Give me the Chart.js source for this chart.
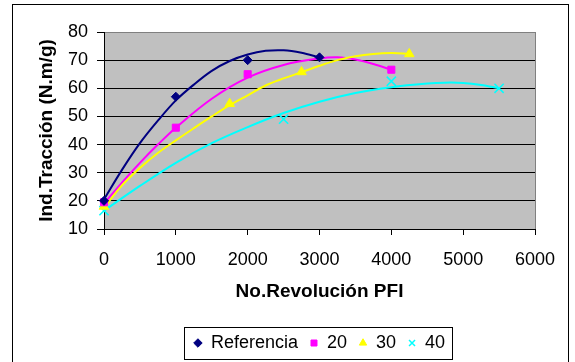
<!DOCTYPE html>
<html>
<head>
<meta charset="utf-8">
<script src="https://cdn.jsdelivr.net/npm/chart.js@4"></script>
<style>
  html, body { margin: 0; padding: 0; background: #fff; }
  #wrap { width: 575px; height: 362px; }
</style>
</head>
<body>
<div id="wrap"><canvas id="chart" width="575" height="362"></canvas></div>
<script>
// Series names shown in the legend
const seriesNames = ['Referencia', '20', '30', '40'];

// Measured points (x = PFI revolutions, y = tensile index N.m/g)
const refX = [0, 1000, 2000, 3000];
const refY = [20, 57, 70, 71];
const s20X = [0, 1000, 2000, 4000];
const s20Y = [19.5, 46, 65, 66.6];
const s30X = [0, 1750, 2750, 4250];
const s30Y = [18, 54.5, 65.8, 72.2];
const s40X = [0, 2500, 4000, 5500];
const s40Y = [16.5, 49, 62.5, 60];

// Trend curves, sampled along each fitted line
const trendRefX = [0, 250, 500, 750, 1000, 1250, 1500, 1750, 2000, 2250, 2500, 2750, 3000];
const trendRefY = [20.5, 31, 40.5, 48.5, 55.7, 61.3, 66.2, 69.7, 72, 73.3, 73.5, 72.6, 71];
const trend20X = [0, 250, 500, 750, 1000, 1500, 2000, 2500, 3000, 3250, 3500, 3750, 4000];
const trend20Y = [19, 26.5, 33.5, 40, 46, 56.3, 63.8, 68.3, 70.6, 71, 70.2, 68.6, 66.6];
const trend30X = [0, 250, 500, 750, 1000, 1250, 1500, 1750, 2000, 2250, 2500, 2750, 3000, 3250, 3500, 3750, 4000, 4250];
const trend30Y = [17.5, 25.5, 31.7, 37, 41.5, 45.8, 50, 54, 57.5, 61, 63.5, 65.7, 68, 70, 71.4, 72.2, 72.5, 72.3];
const trend40X = [0, 500, 1000, 1500, 2000, 2500, 3000, 3500, 4000, 4500, 4750, 5000, 5250, 5500];
const trend40Y = [16.5, 25.3, 33.5, 40.5, 46.2, 51.2, 55.2, 58.3, 60.4, 61.7, 62, 61.9, 61.2, 60];

// Axis ticks
const xTicks = [0, 1000, 2000, 3000, 4000, 5000, 6000];
const yTicks = [10, 20, 30, 40, 50, 60, 70, 80];

const colors = ['#000080', '#ff00ff', '#ffff00', '#00ffff'];

const toPoints = (xs, ys) => xs.map((x, i) => ({ x, y: ys[i] }));

Chart.defaults.font.family = "'Liberation Sans', Arial, sans-serif";
Chart.defaults.font.size = 18;
Chart.defaults.color = '#000';

function markerSet(label, xs, ys, color, style, radius, bw) {
  return {
    label, data: toPoints(xs, ys), showLine: false, clip: false,
    pointStyle: style, pointRadius: radius, pointHoverRadius: radius,
    backgroundColor: color, borderColor: color, borderWidth: bw
  };
}
function trendSet(xs, ys, color) {
  return {
    label: '', data: toPoints(xs, ys), showLine: true, pointRadius: 0, pointHoverRadius: 0,
    borderColor: color, backgroundColor: color, borderWidth: 2, fill: false,
    tension: 0.35, clip: false
  };
}

// Page frame, plot background and legend box
const framePlugin = {
  id: 'frame',
  beforeDraw(chart) {
    const { ctx, chartArea: a } = chart;
    ctx.save();
    ctx.fillStyle = '#fff';
    ctx.fillRect(0, 0, chart.width, chart.height);
    ctx.strokeStyle = '#000';
    ctx.lineWidth = 1;
    ctx.strokeRect(12.5, 4.5, 556, 400);
    ctx.fillStyle = '#c0c0c0';
    ctx.fillRect(a.left, a.top, a.right - a.left, a.bottom - a.top);
    ctx.strokeStyle = '#808080';
    ctx.beginPath();
    ctx.moveTo(a.right + 0.5, a.top);
    ctx.lineTo(a.right + 0.5, a.bottom);
    ctx.stroke();
    ctx.restore();
  },
  afterDraw(chart) {
    const boxes = chart.legend && chart.legend.legendHitBoxes;
    if (!boxes || !boxes.length) return;
    const first = boxes[0], last = boxes[boxes.length - 1];
    const cy = first.top + first.height / 2;
    const l = Math.round(first.left - 10) + 0.5;
    const r = Math.round(last.left + last.width + 7) + 0.5;
    const t = Math.round(cy - 16) + 0.5;
    const b = Math.round(cy + 16) + 0.5;
    const ctx = chart.ctx;
    ctx.save();
    ctx.strokeStyle = '#000';
    ctx.lineWidth = 1;
    ctx.strokeRect(l, t, r - l, b - t);
    ctx.restore();
  }
};

new Chart(document.getElementById('chart'), {
  type: 'scatter',
  data: {
    datasets: [
      markerSet(seriesNames[0], refX, refY, colors[0], 'rectRot', 4.5, 1),
      markerSet(seriesNames[1], s20X, s20Y, colors[1], 'rect', 5, 1),
      markerSet(seriesNames[2], s30X, s30Y, colors[2], 'triangle', 5.5, 1),
      markerSet(seriesNames[3], s40X, s40Y, colors[3], 'crossRot', 6.5, 1.5),
      trendSet(trend40X, trend40Y, colors[3]),
      trendSet(trend30X, trend30Y, colors[2]),
      trendSet(trend20X, trend20Y, colors[1]),
      trendSet(trendRefX, trendRefY, colors[0])
    ]
  },
  options: {
    responsive: false,
    animation: false,
    layout: { padding: { top: 32, right: 40, bottom: 0, left: 0 } },
    scales: {
      x: {
        type: 'linear',
        min: xTicks[0], max: xTicks[xTicks.length - 1],
        afterBuildTicks: s => { s.ticks = xTicks.map(v => ({ value: v })); },
        ticks: { padding: 14, maxRotation: 0, color: '#000', callback: v => String(v) },
        grid: { drawOnChartArea: false, drawTicks: true, tickLength: 6, tickColor: '#000', color: '#000' },
        border: { color: '#000', width: 1 },
        title: {
          display: true, text: 'No.Revolución PFI', color: '#000',
          font: { size: 19, weight: 'bold' }, padding: { top: 0, bottom: 19 }
        },
        afterFit: s => { s.height = 93; }
      },
      y: {
        type: 'linear',
        min: yTicks[0], max: yTicks[yTicks.length - 1],
        afterBuildTicks: s => { s.ticks = yTicks.map(v => ({ value: v })); },
        ticks: { padding: 9, color: '#000', callback: v => String(v) },
        grid: {
          color: c => (c.tick && c.tick.value === yTicks[yTicks.length - 1]) ? '#808080' : '#000',
          tickColor: '#000', tickLength: 7, lineWidth: 1
        },
        border: { color: '#000', width: 1 },
        title: {
          display: true, text: 'Ind.Tracción (N.m/g)', color: '#000',
          font: { size: 19, weight: 'bold' }, padding: { top: 35, bottom: 0 }
        },
        afterFit: s => { s.width = 104; }
      }
    },
    plugins: {
      tooltip: { enabled: false },
      legend: {
        position: 'bottom',
        fullSize: false,
        labels: {
          usePointStyle: true, boxWidth: 8, boxHeight: 6, padding: 12,
          color: '#000', font: { size: 18 },
          filter: item => item.datasetIndex < seriesNames.length
        }
      }
    }
  },
  plugins: [framePlugin]
});
</script>
</body>
</html>
